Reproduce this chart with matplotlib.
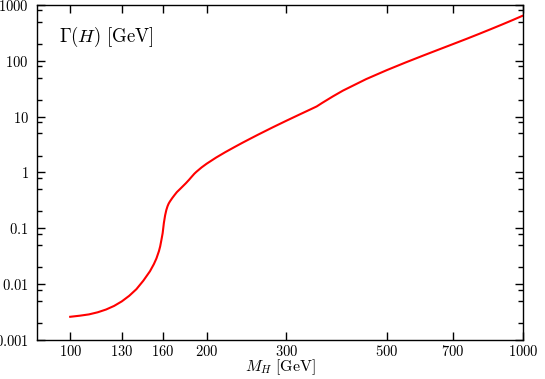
import numpy as np
import matplotlib
matplotlib.use('Agg')
import matplotlib.pyplot as plt
from matplotlib.ticker import FixedLocator, FixedFormatter, NullFormatter

plt.rcParams['mathtext.fontset'] = 'cm'
plt.rcParams['font.family'] = 'serif'
plt.rcParams['font.serif'] = ['DejaVu Serif']

# Higgs mass [GeV] and total width [GeV]
mh = [100, 105, 110, 115, 120, 125, 130, 135, 140, 145, 150, 153, 155, 157, 158, 159,
      160, 161, 162, 163, 164, 165, 166, 168, 170, 172, 175, 180, 183, 185, 188,
      190, 195, 200, 210, 220, 230, 240, 250, 260, 280, 300, 320, 340, 350, 360,
      380, 400, 450, 500, 550, 600, 650, 700, 750, 800, 850, 900, 950, 1000]
width = [0.00260, 0.00272, 0.00287, 0.00313, 0.00351, 0.00407, 0.00491, 0.00618, 0.00812,
         0.0115, 0.0170, 0.0228, 0.0288, 0.0390, 0.0475, 0.062,
         0.082, 0.125, 0.170, 0.212, 0.248, 0.278, 0.302, 0.348, 0.395, 0.445,
         0.51, 0.64, 0.74, 0.82, 0.95, 1.03, 1.23, 1.43, 1.85, 2.31, 2.82, 3.40,
         4.04, 4.76, 6.43, 8.43, 10.8, 13.6, 15.2, 17.6, 23.0, 29.2, 46.9, 68.0,
         93.2, 123, 158, 199, 247, 304, 371, 449, 540, 647]

xticks = [100, 130, 160, 200, 300, 500, 700, 1000]
yticks = [0.001, 0.01, 0.1, 1, 10, 100, 1000]
ylabels = ['0.001', '0.01', '0.1', '1', '10', '100', '1000']

fig = plt.figure(figsize=(5.45, 3.79), dpi=100)
ax = fig.add_axes([0.068, 0.103, 0.892, 0.884])
ax.plot(mh, width, color='red', lw=1.5)
ax.set_xscale('log')
ax.set_yscale('log')
ax.set_xlim(84.5, 1000)
ax.set_ylim(0.001, 1000)

ax.xaxis.set_major_locator(FixedLocator(xticks))
ax.xaxis.set_major_formatter(FixedFormatter([r'$\mathrm{%d}$' % v for v in xticks]))
ax.xaxis.set_minor_locator(FixedLocator([]))
ax.xaxis.set_minor_formatter(NullFormatter())
ax.yaxis.set_major_locator(FixedLocator(yticks))
ax.yaxis.set_major_formatter(FixedFormatter([r'$\mathrm{%s}$' % s for s in ylabels]))
yminor = [m * 10.0**e for e in range(-3, 3) for m in (2, 5, 8)]
ax.yaxis.set_minor_locator(FixedLocator(yminor))
ax.yaxis.set_minor_formatter(NullFormatter())

ax.tick_params(which='both', direction='in', top=True, right=True, width=1,
               labelsize=10.5)
ax.tick_params(axis='x', pad=3)
ax.tick_params(axis='y', pad=6)
ax.tick_params(which='major', length=6)
ax.tick_params(which='minor', length=3.5)
for s in ax.spines.values():
    s.set_linewidth(1)

ax.set_xlabel(r'$M_H\ [\mathrm{GeV}]$', fontsize=11.5, labelpad=-1)
ax.text(0.045, 0.905, r'$\Gamma(H)\ [\mathrm{GeV}]$', transform=ax.transAxes,
        fontsize=13.5, va='center', ha='left')

fig.savefig('out.png', dpi=100)
